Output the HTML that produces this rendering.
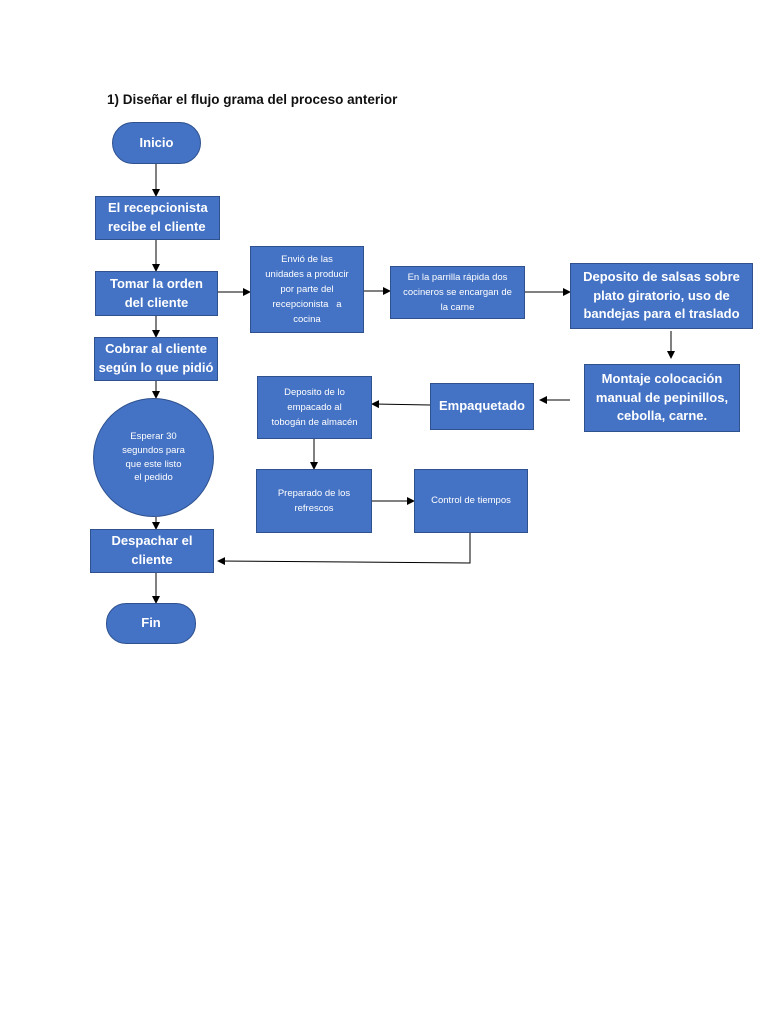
<!DOCTYPE html>
<html><head><meta charset="utf-8"><style>
body{margin:0;background:#fff;width:768px;height:1024px;position:relative;font-family:"Liberation Sans",sans-serif;overflow:hidden}
.b{position:absolute;background:#4472C4;border:1.5px solid #2F528F;color:#fff;display:flex;align-items:center;justify-content:center;text-align:center;box-sizing:border-box;line-height:1.45}
.t{position:absolute;left:107px;top:92px;font-size:13.5px;font-weight:bold;color:#111}
svg{position:absolute;left:0;top:0}
</style></head><body>
<div class="t">1) Diseñar el flujo grama del proceso anterior</div>
<svg width="768" height="1024"><defs><marker id="a" markerWidth="8" markerHeight="8" refX="7" refY="4" orient="auto"><path d="M0,0L8,4L0,8z" fill="#000"/></marker></defs>
<g stroke="#000" stroke-width="1" fill="none" marker-end="url(#a)">
<line x1="156" y1="164" x2="156" y2="196"/>
<line x1="156" y1="240" x2="156" y2="271"/>
<line x1="156" y1="316" x2="156" y2="337"/>
<line x1="156" y1="381" x2="156" y2="398"/>
<line x1="156" y1="517" x2="156" y2="529"/>
<line x1="156" y1="573" x2="156" y2="603"/>
<line x1="218" y1="292" x2="250" y2="292"/>
<line x1="364" y1="291" x2="390" y2="291"/>
<line x1="525" y1="292" x2="570" y2="292"/>
<line x1="671" y1="331" x2="671" y2="358"/>
<line x1="570" y1="400" x2="540" y2="400"/>
<line x1="430" y1="405" x2="372" y2="404"/>
<line x1="314" y1="439" x2="314" y2="469"/>
<line x1="372" y1="501" x2="414" y2="501"/>
<polyline points="470,533 470,563 218,561"/>
</g></svg>
<div class="b" style="left:112px;top:122px;width:89px;height:42px;border-radius:21px;font-size:13px;font-weight:bold">Inicio</div>
<div class="b" style="left:95px;top:196px;width:125px;height:44px;font-size:13px;font-weight:bold;justify-content:flex-start;text-align:left;padding-left:12px">El recepcionista<br>recibe el cliente</div>
<div class="b" style="left:95px;top:271px;width:123px;height:45px;font-size:13px;font-weight:bold">Tomar la orden<br>del cliente</div>
<div class="b" style="left:94px;top:337px;width:124px;height:44px;font-size:13px;font-weight:bold">Cobrar al cliente<br>según lo que pidió</div>
<div class="b" style="left:93px;top:398px;width:121px;height:119px;border-radius:50%;font-size:9.5px">Esperar 30<br>segundos para<br>que este listo<br>el pedido</div>
<div class="b" style="left:90px;top:529px;width:124px;height:44px;font-size:13px;font-weight:bold">Despachar el<br>cliente</div>
<div class="b" style="left:106px;top:603px;width:90px;height:41px;border-radius:20px;font-size:13px;font-weight:bold">Fin</div>
<div class="b" style="left:250px;top:246px;width:114px;height:87px;font-size:9.5px;line-height:1.6">Envió de las<br>unidades a producir<br>por parte del<br>recepcionista &nbsp; a<br>cocina</div>
<div class="b" style="left:390px;top:266px;width:135px;height:53px;font-size:9.5px;line-height:1.6">En la parrilla rápida dos<br>cocineros se encargan de<br>la carne</div>
<div class="b" style="left:570px;top:263px;width:183px;height:66px;font-size:13px;font-weight:bold">Deposito de salsas sobre<br>plato giratorio, uso de<br>bandejas para el traslado</div>
<div class="b" style="left:584px;top:364px;width:156px;height:68px;font-size:13px;font-weight:bold">Montaje colocación<br>manual de pepinillos,<br>cebolla, carne.</div>
<div class="b" style="left:430px;top:383px;width:104px;height:47px;font-size:13px;font-weight:bold">Empaquetado</div>
<div class="b" style="left:257px;top:376px;width:115px;height:63px;font-size:9.5px;line-height:1.6">Deposito de lo<br>empacado al<br>tobogán de almacén</div>
<div class="b" style="left:256px;top:469px;width:116px;height:64px;font-size:9.5px;line-height:1.6">Preparado de los<br>refrescos</div>
<div class="b" style="left:414px;top:469px;width:114px;height:64px;font-size:9.5px">Control de tiempos</div>
</body></html>
